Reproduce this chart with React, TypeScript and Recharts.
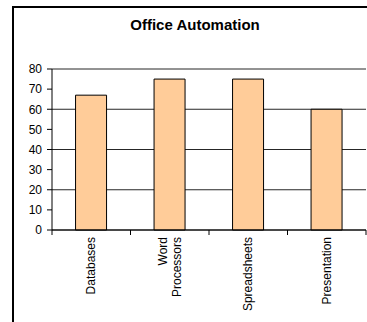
import { BarChart, Bar, XAxis, YAxis, CartesianGrid } from "recharts";

const categories = ["Databases", "Word Processors", "Spreadsheets", "Presentation"];
const usage = [67, 75, 75, 60];
const yTicks = [0, 10, 20, 30, 40, 50, 60, 70, 80];

const data = categories.map((name, i) => ({ name, value: usage[i] }));

const W = 367;
const H = 322;
const PLOT_LEFT = 52;
const PLOT_RIGHT = 366;
const BAND = (PLOT_RIGHT - PLOT_LEFT) / categories.length;

interface TickProps {
  x?: number;
  y?: number;
  index?: number;
  payload?: { value: string };
}

function CategoryTick({ x = 0, y = 0, index = 0, payload }: TickProps) {
  const words = (payload?.value ?? "").split(" ");
  const lineH = 14;
  const top = y + 7;
  return (
    <g>
      <line x1={x - BAND / 2} x2={x - BAND / 2} y1={y} y2={y + 5} stroke="#000" />
      {index === categories.length - 1 && (
        <line x1={x + BAND / 2} x2={x + BAND / 2} y1={y} y2={y + 5} stroke="#000" />
      )}
      <text
        transform={`translate(${x}, ${top}) rotate(-90)`}
        textAnchor="end"
        fontSize={12}
        fill="#000"
        fontFamily="'Liberation Sans', Arial, sans-serif"
      >
        {words.map((w, i) => (
          <tspan
            key={w}
            x={0}
            y={(i - (words.length - 1) / 2) * lineH}
            dominantBaseline="central"
          >
            {w}
          </tspan>
        ))}
      </text>
    </g>
  );
}

export default function App() {
  return (
    <div
      style={{
        position: "fixed",
        left: 0,
        top: 0,
        width: W,
        height: H,
        background: "#fff",
        overflow: "hidden",
        fontFamily: "'Liberation Sans', Arial, sans-serif",
      }}
    >
      {/* outer chart frame, runs off the right and bottom */}
      <div
        style={{
          position: "absolute",
          left: 12,
          top: 6,
          width: 400,
          height: 400,
          border: "2px solid #000",
          boxSizing: "border-box",
        }}
      />
      <div
        style={{
          position: "absolute",
          left: 0,
          width: 390,
          top: 16,
          textAlign: "center",
          fontWeight: "bold",
          fontSize: 15,
          color: "#000",
        }}
      >
        Office Automation
      </div>
      <div style={{ position: "absolute", left: 0, top: 0 }}>
        <BarChart
          width={W}
          height={H}
          data={data}
          margin={{ top: 69, right: W - PLOT_RIGHT, bottom: 0, left: 0 }}
          barCategoryGap="30%"
        >
          <CartesianGrid horizontal vertical={false} stroke="#000" strokeOpacity={0.85} />
          <XAxis
            dataKey="name"
            interval={0}
            height={92}
            tickSize={0}
            tickMargin={0}
            tickLine={false}
            axisLine={{ stroke: "#000" }}
            tick={<CategoryTick />}
          />
          <YAxis
            domain={[0, 80]}
            ticks={yTicks}
            width={PLOT_LEFT}
            tickSize={5}
            tickMargin={5}
            axisLine={{ stroke: "#000" }}
            tickLine={{ stroke: "#000" }}
            tick={{ fontSize: 12, fill: "#000", fontFamily: "'Liberation Sans', Arial, sans-serif" }}
          />
          <YAxis
            yAxisId="frame"
            orientation="right"
            width={0}
            tick={false}
            tickLine={false}
            axisLine={{ stroke: "#808080" }}
          />
          <Bar
            dataKey="value"
            fill="#FFCC99"
            stroke="#000"
            strokeWidth={1}
            isAnimationActive={false}
          />
        </BarChart>
      </div>
    </div>
  );
}
